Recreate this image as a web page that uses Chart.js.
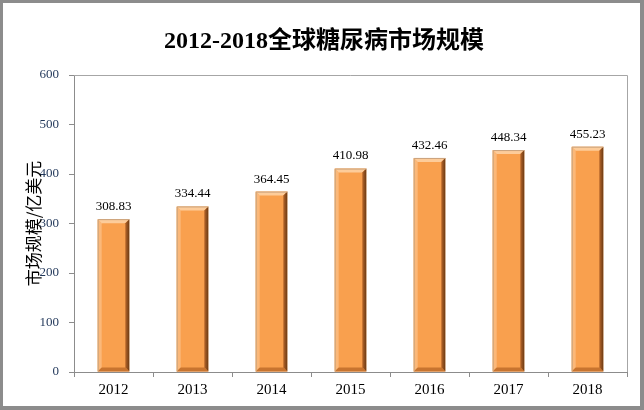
<!DOCTYPE html>
<html>
<head>
<meta charset="utf-8">
<script src="https://cdn.jsdelivr.net/npm/chart.js@4.4.0/dist/chart.umd.min.js"></script>
<style>
  html, body { margin: 0; padding: 0; background: #fff; }
  #wrap { width: 644px; height: 410px; position: relative; }
</style>
</head>
<body>
<div id="wrap"><canvas id="marketChart" width="644" height="410"></canvas></div>
<script>
const years = ['2012', '2013', '2014', '2015', '2016', '2017', '2018'];
const marketSize = [308.83, 334.44, 364.45, 410.98, 432.46, 448.34, 455.23];
const yTicks = [0, 100, 200, 300, 400, 500, 600];
const chartTitle = '2012-2018全球糖尿病市场规模';
const yAxisTitle = '市场规模/亿美元';

const serif = '"Liberation Serif", "Times New Roman", "Noto Sans CJK SC", serif';

// frame, title, axis title, plot box
const decorPlugin = {
    id: 'decor',
    beforeDraw(chart) {
        const c = chart.ctx;
        c.save();
        c.fillStyle = '#ffffff';
        c.fillRect(0, 0, chart.width, chart.height);
        c.fillStyle = '#8c8c8c';
        c.fillRect(0, 0, 644, 3);
        c.fillRect(0, 0, 3, 410);
        c.fillRect(640, 0, 4, 410);
        c.fillRect(0, 406, 644, 4);
        c.restore();
    },
    afterDraw(chart) {
        const c = chart.ctx;
        const a = chart.chartArea;
        c.save();
        c.fillStyle = '#000';
        c.textAlign = 'center';
        c.textBaseline = 'middle';
        c.font = 'bold 24px ' + serif;
        c.fillText(chartTitle, 324, 42);

        c.translate(34, (a.top + a.bottom) / 2);
        c.rotate(-Math.PI / 2);
        c.font = '17px "Noto Sans CJK SC", sans-serif';
        c.fillText(yAxisTitle, 0, 0);
        c.restore();

        c.save();
        c.strokeStyle = '#a6a6a6';
        c.lineWidth = 1;
        c.beginPath();
        c.moveTo(a.left, a.top + 0.5);
        c.lineTo(a.right + 0.5, a.top + 0.5);
        c.lineTo(a.right + 0.5, a.bottom);
        c.stroke();
        c.restore();
    }
};

// bevelled bar edges + value labels
const barStylePlugin = {
    id: 'barStyle',
    afterDatasetsDraw(chart) {
        const c = chart.ctx;
        const meta = chart.getDatasetMeta(0);
        meta.data.forEach((bar, i) => {
            const p = bar.getProps(['x', 'y', 'base', 'width'], true);
            const l = p.x - p.width / 2, r = p.x + p.width / 2;
            const t = p.y, b = p.base;
            const e = 4;
            c.save();
            // left edge
            c.fillStyle = '#fbb879';
            c.beginPath();
            c.moveTo(l, t); c.lineTo(l + e, t + e); c.lineTo(l + e, b - e); c.lineTo(l, b);
            c.closePath(); c.fill();
            // top edge
            c.fillStyle = '#fdcc9a';
            c.beginPath();
            c.moveTo(l, t); c.lineTo(r, t); c.lineTo(r - e, t + e); c.lineTo(l + e, t + e);
            c.closePath(); c.fill();
            // right edge
            const g = c.createLinearGradient(r - e, 0, r, 0);
            g.addColorStop(0, '#b7662a');
            g.addColorStop(1, '#6b3a14');
            c.fillStyle = g;
            c.beginPath();
            c.moveTo(r, t); c.lineTo(r, b); c.lineTo(r - e, b - e); c.lineTo(r - e, t + e);
            c.closePath(); c.fill();
            // bottom edge
            c.fillStyle = '#c8742f';
            c.beginPath();
            c.moveTo(l, b); c.lineTo(r, b); c.lineTo(r - e, b - e); c.lineTo(l + e, b - e);
            c.closePath(); c.fill();
            // outline
            c.strokeStyle = '#c9a27c';
            c.lineWidth = 1;
            c.beginPath();
            c.moveTo(l + 0.5, b); c.lineTo(l + 0.5, t + 0.5); c.lineTo(r, t + 0.5);
            c.stroke();

            c.fillStyle = '#000';
            c.font = '13px ' + serif;
            c.textAlign = 'center';
            c.textBaseline = 'bottom';
            c.fillText(marketSize[i].toFixed(2), p.x, t - 6);
            c.restore();
        });
    }
};

const ctx = document.getElementById('marketChart').getContext('2d');
new Chart(ctx, {
    type: 'bar',
    data: {
        labels: years,
        datasets: [{
            label: yAxisTitle,
            data: marketSize,
            backgroundColor: '#f9a04e',
            borderWidth: 0,
            barPercentage: 0.4,
            categoryPercentage: 1
        }]
    },
    options: {
        responsive: false,
        animation: false,
        layout: { padding: { top: 75, left: 0, right: 17, bottom: 0 } },
        plugins: {
            legend: { display: false },
            title: { display: false },
            tooltip: { enabled: false }
        },
        scales: {
            x: {
                offset: true,
                grid: { offset: true, drawOnChartArea: false, drawTicks: true, tickLength: 5, color: '#8c8c8c' },
                border: { display: true, color: '#8c8c8c' },
                ticks: { color: '#000', font: { family: serif, size: 15 }, padding: 4 },
                afterFit(scale) { scale.height = 38; }
            },
            y: {
                min: 0,
                max: 600,
                afterBuildTicks(scale) { scale.ticks = yTicks.map(v => ({ value: v })); },
                grid: { drawOnChartArea: false, drawTicks: true, tickLength: 5, color: '#8c8c8c' },
                border: { display: true, color: '#8c8c8c' },
                ticks: { color: '#1f3558', font: { family: serif, size: 13 }, padding: 10 },
                afterFit(scale) { scale.width = 74; }
            }
        }
    },
    plugins: [decorPlugin, barStylePlugin]
});
</script>
</body>
</html>
